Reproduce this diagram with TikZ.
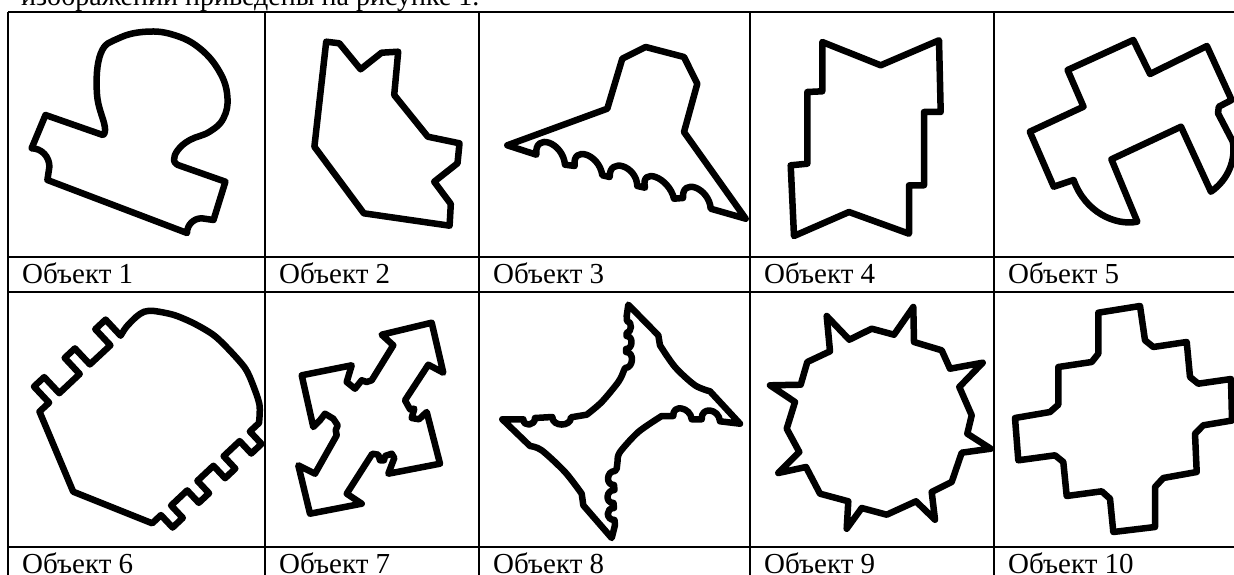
\documentclass[tikz,border=0pt]{standalone}
\usepackage{fontspec}
\setmainfont{Liberation Serif}
\begin{document}
\begin{tikzpicture}[x=1pt,y=-1pt,
  obj/.style={line width=6.5pt, line join=round, line cap=round},
  grid/.style={line width=2.6pt},
  lbl/.style={anchor=base west, inner sep=0pt, font=\fontsize{29}{34}\selectfont}]
\useasboundingbox (0,0) rectangle (1234,575);
\clip (0,0) rectangle (1234,575);
\fill[white] (0,0) rectangle (1234,575);
% top text (cut off)
\node[lbl, font=\fontsize{28}{33}\selectfont] (toptext) at (21,6) {изображений приведены на рисунке 1.};
% table
\foreach \yy in {12,257,292,547} \draw[grid] (8,\yy) -- (1250,\yy);
\foreach \xx in {8,265,479,750,994} \draw[grid] (\xx,12) -- (\xx,590);
% labels
\node[lbl] (l1) at (22,283.3) {Объект 1};
\node[lbl] (l2) at (279,283.3) {Объект 2};
\node[lbl] (l3) at (493,283.3) {Объект 3};
\node[lbl] (l4) at (764,283.3) {Объект 4};
\node[lbl] (l5) at (1008,283.3) {Объект 5};
\node[lbl] (l6) at (22,573.3) {Объект 6};
\node[lbl] (l7) at (279,573.3) {Объект 7};
\node[lbl] (l8) at (493,573.3) {Объект 8};
\node[lbl] (l9) at (764,573.3) {Объект 9};
\node[lbl] (l10) at (1008,573.3) {Объект 10};
% object 1
\draw[obj] (45.5,115) -- (102.8,135) -- plot[smooth, tension=0.7] coordinates {(102.8,135) (104.8,126.7) (96.9,93.3) (100.8,53.3) (118.6,38.3) (146.3,31.7) (174,35) (199.7,48.3) (219.5,71.7) (227.4,96.7) (223.4,118.3) (209.6,131.7) (189.8,140) (177.9,150) (174,160) (177.9,165)} -- (225.4,181.7) -- (213.5,220) -- (201.7,218.3) .. controls (193.6,218.3) and (187,224.9) .. (187,233) -- (47.4,180) -- (49.4,166.7) .. controls (49.4,156.7) and (41.6,148.3) .. (31.6,148.3) -- cycle;
% object 2
\draw[obj] (326.2,41.7) -- (339.3,43.3) -- (360.6,69.3) -- (381.6,52.7) -- (398.2,51.7) -- (394.2,95) -- (427.8,136.7) -- (459.5,143.3) -- (457.5,163.3) -- (434.2,181.7) -- (450.8,204) -- (449.6,225.7) -- (363.8,213.3) -- (314.4,146.7) -- cycle;
% object 3
\draw[obj] (507.3,145.3) -- (536.3,154.7) .. controls (534.1,132.1) and (562.8,142.1) .. (565,164.7) -- (574.7,166) .. controls (571.8,144.8) and (599.4,154.1) .. (602.3,175.3) -- (609.7,177) .. controls (609,156.8) and (636.6,165.8) .. (637.3,186) -- (645,187.7) .. controls (640,166.2) and (669,177.2) .. (674,198.7) -- (683,198) .. controls (681.5,177.2) and (709.2,187.9) .. (710.7,208.7) -- (745.7,218.7) -- (684,132) -- (697.3,83.7) -- (684,57) -- (645.7,47) -- (622.3,58.7) -- (607.3,108.7) -- cycle;
% object 4
\draw[obj] (822.3,42) -- (880.7,65.3) -- (939,40.3) -- (940.7,112) -- (924,112) -- (924,185.3) -- (909,185.3) -- (909,233.7) -- (849,212) -- (794,236) -- (790.7,165.3) -- (807.3,163.7) -- (807.3,92) -- (822.3,91.3) -- cycle;
% object 5
\draw[obj] (1067.6,70) -- (1133.3,40) -- (1150,74) -- (1206.9,46) -- (1231.6,100) -- (1218.8,106.7) -- (1218,113.3) -- (1232.8,141.7) .. controls (1236,160) and (1228,180) .. (1210.9,191.7) -- (1181,126.7) -- (1111.4,159.3) -- (1137.3,221.7) .. controls (1115,226) and (1085,212) .. (1073.6,180) -- (1053.7,186.7) -- (1029.8,131.7) -- (1083.5,106.7) -- cycle;
% object 6
\draw[obj] (39.5,411.6) -- (73.2,491.7) -- (152.2,523.3)
  -- (160.95,515.08) -- (172.6,527.5) -- (182.8,517.9) -- (171.15,505.49)
  -- (187.19,490.42) -- (198.8,502.8) -- (209.05,493.2) -- (197.4,480.83)
  -- (213.44,465.76) -- (225.1,478.2) -- (235.3,468.6) -- (223.64,456.17)
  -- (239.68,441.1) -- (251.3,453.5) -- (261.5,443.9) -- (249.89,431.51)
  -- (259,423) -- plot[smooth] coordinates {(259,423) (259.5,405) (253,385) (245.2,368.3) (229.3,350) (213.5,335) (193.7,323.3) (174,315) (154.2,311) (144.3,311.7) (136.4,316.7) (126.5,326.7) (120.6,335.7)}
  -- (105.6,319.6) -- (95.3,329.2) -- (110.4,345.3)
  -- (89.9,364.4) -- (74.9,348.4) -- (64.7,357.9) -- (79.7,374.0)
  -- (59.3,393.2) -- (44.2,377.1) -- (34.0,386.6) -- (49.1,402.7)
  -- cycle;
% object 7
\draw[obj] (381.7,334.7) -- (431.7,322.7) -- (443.3,372.7) -- (428.3,364.7) -- (405,400.3) -- (410,409.3) -- (414.3,408.7) -- (411.7,418) -- (419,419.3) -- (426.7,412) -- (440,463.7) -- (388.3,473.7) -- (394.3,458) -- (391.7,453.7) -- (385,456) -- (384,460.3) -- (380,460.3) -- (378.3,454.7) -- (372.3,453.7) -- (346.7,493.7) -- (361.7,503.7) -- (310,513.7) -- (298.3,465.3) -- (315,473.7) -- (336.7,435.3) -- (335.7,430.3) -- (337.7,425.3) -- (333.3,418.7) -- (325,413.7) -- (320,420.3) -- (313.3,427) -- (301.7,375.3) -- (351.7,365.3) -- (346.7,382) -- (355,388.7) -- (361.7,380.3) -- (366.7,382) -- (371.7,380.3) -- (393.3,345.3) -- cycle;
% object 8
\draw[obj] (628.3,304.7) -- (658.3,335.3) -- (660,345.3) -- plot[smooth] coordinates {(660,345.3) (675,367) (695,385.3) (710,391.3)} -- (740,423.7) -- (720,421.3) .. controls (718.9,408.3) and (700.6,406.3) .. (701.7,419.3) -- (691.7,419.3) .. controls (690.6,407.1) and (672.2,403.8) .. (673.3,416) -- (661.7,416) -- plot[smooth] coordinates {(661.7,416) (638.3,432) (620,452) (617.7,460)} -- (616.7,468.7) -- (615,471) .. controls (606.4,471) and (605.4,485) .. (614,485) -- (614.5,490) .. controls (605.9,490) and (604.9,503) .. (613.5,503) -- (614,508) .. controls (605.4,508) and (605.9,520) .. (614.5,520) -- (615,525) -- (611.7,538) -- (583.3,505.3) -- (581.7,493.7) -- plot[smooth] coordinates {(581.7,493.7) (565,472) (541.7,450.3) (530,446)} -- (502.3,419.3) -- (523.3,419.3) .. controls (523.3,427) and (535,426) .. (535,418) -- (552.3,417) .. controls (552.3,427) and (571,427) .. (571,417.3) -- (586.7,414.7) -- plot[smooth] coordinates {(586.7,414.7) (601.7,402) (618.3,382) (623.3,372)} -- (625,368) .. controls (633.6,368) and (634.6,352) .. (626,352) -- (626,349) .. controls (633,349) and (633.5,336) .. (626.5,336) -- (626.5,333) .. controls (632,333) and (632.5,321) .. (627,321) -- (626.7,316) -- cycle;
% object 9
\draw[obj] (826.7,316) -- (849.3,339.7) -- (871.7,328.7) -- (894,334.7) -- (913.3,307) -- (914,342) -- (941.7,350.3) -- (950,368.7) -- (982.7,362.7) -- (959.3,387) -- (971.7,415.3) -- (967.3,433.7) -- (990.7,448.7) -- (961.7,452.7) -- (951.7,482) -- (931.7,492) -- (935,519.7) -- (916,501.3) -- (886.7,514.7) -- (861.7,508) -- (846.7,528.7) -- (848.3,501.3) -- (820,493.7) -- (806,467) -- (778.3,473) -- (799.3,452) -- (786.7,428.7) -- (795,402) -- (770,385.3) -- (800.7,384.7) -- (807.3,362) -- (830,351.3) -- cycle;
% object 10
\draw[obj] (1098.3,312.7) -- (1140,306) -- (1145,340.3) -- (1153.3,347) -- (1186.7,342) -- (1190,377) -- (1198.3,383.7) -- (1231,379) -- (1232,420.5) -- (1203.3,425.3) -- (1195,433.7) -- (1196.7,472) -- (1163.3,478) -- (1155,487) -- (1155,527) -- (1113.3,532) -- (1110,498.7) -- (1101.7,491.3) -- (1066.7,496) -- (1063.3,462) -- (1055,455.3) -- (1018.3,460.3) -- (1015,418) -- (1050,412) -- (1058.3,404.7) -- (1058.3,367) -- (1091.7,362) -- (1098.3,353.7) -- cycle;
\end{tikzpicture}
\end{document}
